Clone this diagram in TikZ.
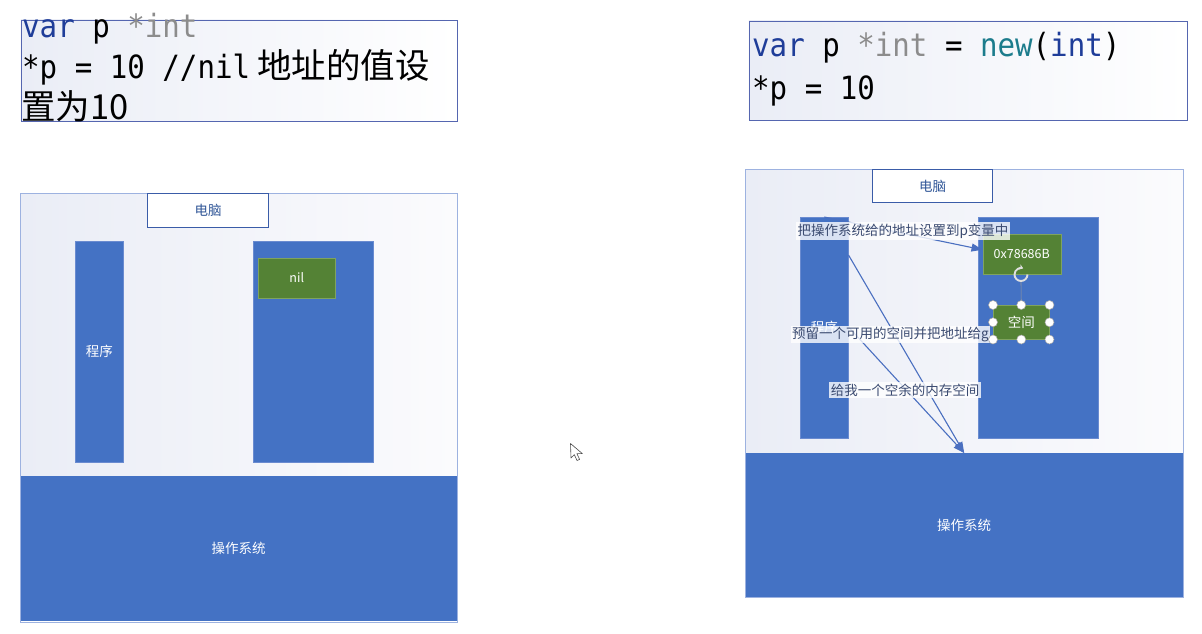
\documentclass[tikz,border=0pt]{standalone}
\usepackage{fontspec}
\newfontfamily\cjk{Noto Sans CJK SC}
\newfontfamily\codef[FakeStretch=0.91]{DejaVu Sans Mono}
\usetikzlibrary{arrows.meta,calc}
\definecolor{osblue}{HTML}{4472C4}
\definecolor{barline}{HTML}{6A8BD0}
\definecolor{frameline}{HTML}{9DB2E0}
\definecolor{boxline}{HTML}{5566B0}
\definecolor{pcline}{HTML}{3A5CA8}
\definecolor{pctext}{HTML}{2F5597}
\definecolor{memgreen}{HTML}{548235}
\definecolor{greenline}{HTML}{7FA35F}
\definecolor{kw}{HTML}{1F3D99}
\definecolor{ty}{HTML}{8C8C8C}
\definecolor{nw}{HTML}{1C7C8C}
\definecolor{labtxt}{HTML}{3A4A70}
\definecolor{bgL}{HTML}{EAEDF6}
\definecolor{bgR}{HTML}{FBFBFD}
\definecolor{connc}{HTML}{4A6FC0}
\newcommand\codesize{\fontsize{32}{38}\selectfont}
\newcommand\cjkbig{\cjk\fontsize{34.5}{38}\selectfont}
\begin{document}
\begin{tikzpicture}[x=1pt,y=-1pt,
  codebox/.style={draw=boxline, line width=0.9pt, left color=bgL, right color=white, anchor=north west, inner sep=0pt},
  framebox/.style={draw=frameline, line width=0.9pt, anchor=north west, inner sep=0pt},
  osbox/.style={fill=osblue, anchor=north west, inner sep=0pt, text=white, font=\cjk\fontsize{13.5}{16}\selectfont},
  barbox/.style={fill=osblue, draw=barline, line width=0.5pt, anchor=north west, inner sep=0pt, text=white, font=\cjk\fontsize{13.5}{16}\selectfont},
  pcbox/.style={draw=pcline, line width=1pt, fill=white, anchor=north west, inner sep=0pt, text=pctext, font=\cjk\fontsize{13.5}{16}\selectfont},
  membox/.style={fill=memgreen, draw=greenline, line width=0.5pt, anchor=north west, inner sep=0pt, text=white, font=\cjk\fontsize{12.5}{15}\selectfont},
  codeline/.style={anchor=base west, inner sep=0pt},
  lab/.style={fill=white, fill opacity=0.8, text opacity=1, text=labtxt, inner xsep=1.5pt, inner ysep=1.5pt, font=\cjk\fontsize{13.5}{16}\selectfont},
  conn/.style={draw=connc, line width=1.1pt, -{Triangle[length=11pt,width=8pt]}},
  handle/.style={circle, fill=white, draw=black!35, line width=0.5pt, minimum size=9pt, inner sep=0pt}]
\useasboundingbox (0,0) rectangle (1202,633);
\fill[white] (0,0) rectangle (1202,633);

% ---------- code boxes ----------
\node[codebox, minimum width=436, minimum height=101] (code1) at (20.5,19.5) {};
\node[codeline] (c1a) at (22,37) {\codef\codesize\textcolor{kw}{var} p \textcolor{ty}{*int}};
\node[codeline] (c1b) at (22,78) {\codef\codesize *p = 10 //nil\hspace{7pt}\cjkbig 地址的值设};
\node[codeline] (c1c) at (21,119) {\cjkbig 置为10};

\node[codebox, minimum width=438, minimum height=99] (code2) at (748.5,20.5) {};
\node[codeline] (c2a) at (752,56) {\codef\codesize\textcolor{kw}{var} p \textcolor{ty}{*int} = \textcolor{nw}{new}(\textcolor{kw}{int})};
\node[codeline] (c2b) at (752,99) {\codef\codesize *p = 10};

% ---------- left diagram ----------
\shade[left color=bgL, right color=bgR] (20,193) rectangle (457,476);
\node[osbox, minimum width=437, minimum height=145] (os1) at (20,476) {操作系统};
\node[framebox, minimum width=437, minimum height=428.5] (frame1) at (20,193) {};
\node[pcbox, minimum width=121, minimum height=34] (pc1) at (147,193) {电脑};
\node[barbox, minimum width=48, minimum height=221] (prog1) at (75,241) {程序};
\node[barbox, minimum width=120, minimum height=221] (mem1) at (253,241) {};
\node[membox, minimum width=77, minimum height=40] (nil1) at (258,257.5) {nil};

% ---------- right diagram ----------
\shade[left color=bgL, right color=bgR] (745,169) rectangle (1183,453);
\node[osbox, minimum width=438, minimum height=144] (os2) at (745,453) {操作系统};
\node[framebox, minimum width=438, minimum height=428] (frame2) at (745,169) {};
\node[pcbox, minimum width=120, minimum height=33] (pc2) at (872,169) {电脑};
\node[barbox, minimum width=48, minimum height=221] (prog2) at (800,217) {程序};
\node[barbox, minimum width=120, minimum height=221] (mem2) at (978,217) {};
\node[membox, minimum width=78, minimum height=40] (addr) at (982.5,233.5) {0x78686B};

% connectors
\draw[conn] (prog2.north) -- ($(addr.west)+(0,-4)$);
\draw[conn] ($(prog2.north east)+(0,38)$) -- (os2.north);
\draw[conn] ($(prog2.north east)+(0,110)$) -- (os2.north);

% labels
\node[lab] (lab1) at (903,231) {把操作系统给的地址设置到p变量中};
\node[lab, anchor=west] (lab2) at (790.5,334.5) {预留一个可用的空间并把地址给g};
\node[lab] (lab3) at (905,390) {给我一个空余的内存空间};

% selected box 空间
\node[membox, minimum width=56, minimum height=34] (space) at (993,305) {\fontsize{13.5}{16}\selectfont 空间};
\coordinate (rot) at (1021,274.5);
\draw[black!40, line width=0.6pt] ($(rot)+(0,7.5)$) -- (space.north);
\draw[white!88!black, line width=1.9pt, -{Stealth[length=4pt,width=5.5pt]}] ($(rot)+(6.5,0)$) arc[start angle=0, end angle=290, radius=6.5];
\foreach \a [count=\i] in {north west, north, north east, west, east, south west, south, south east}
  \node[handle] (h\i) at (space.\a) {};

% mouse pointer
\draw[fill=white, draw=black!70, line width=0.6pt, line join=round]
  (570.5,443.5) -- (571,458) -- (574.3,454.6) -- (577,460.5) -- (579.6,459.4) -- (576.9,453.6) -- (582.3,453.6) -- cycle;
\end{tikzpicture}
\end{document}
